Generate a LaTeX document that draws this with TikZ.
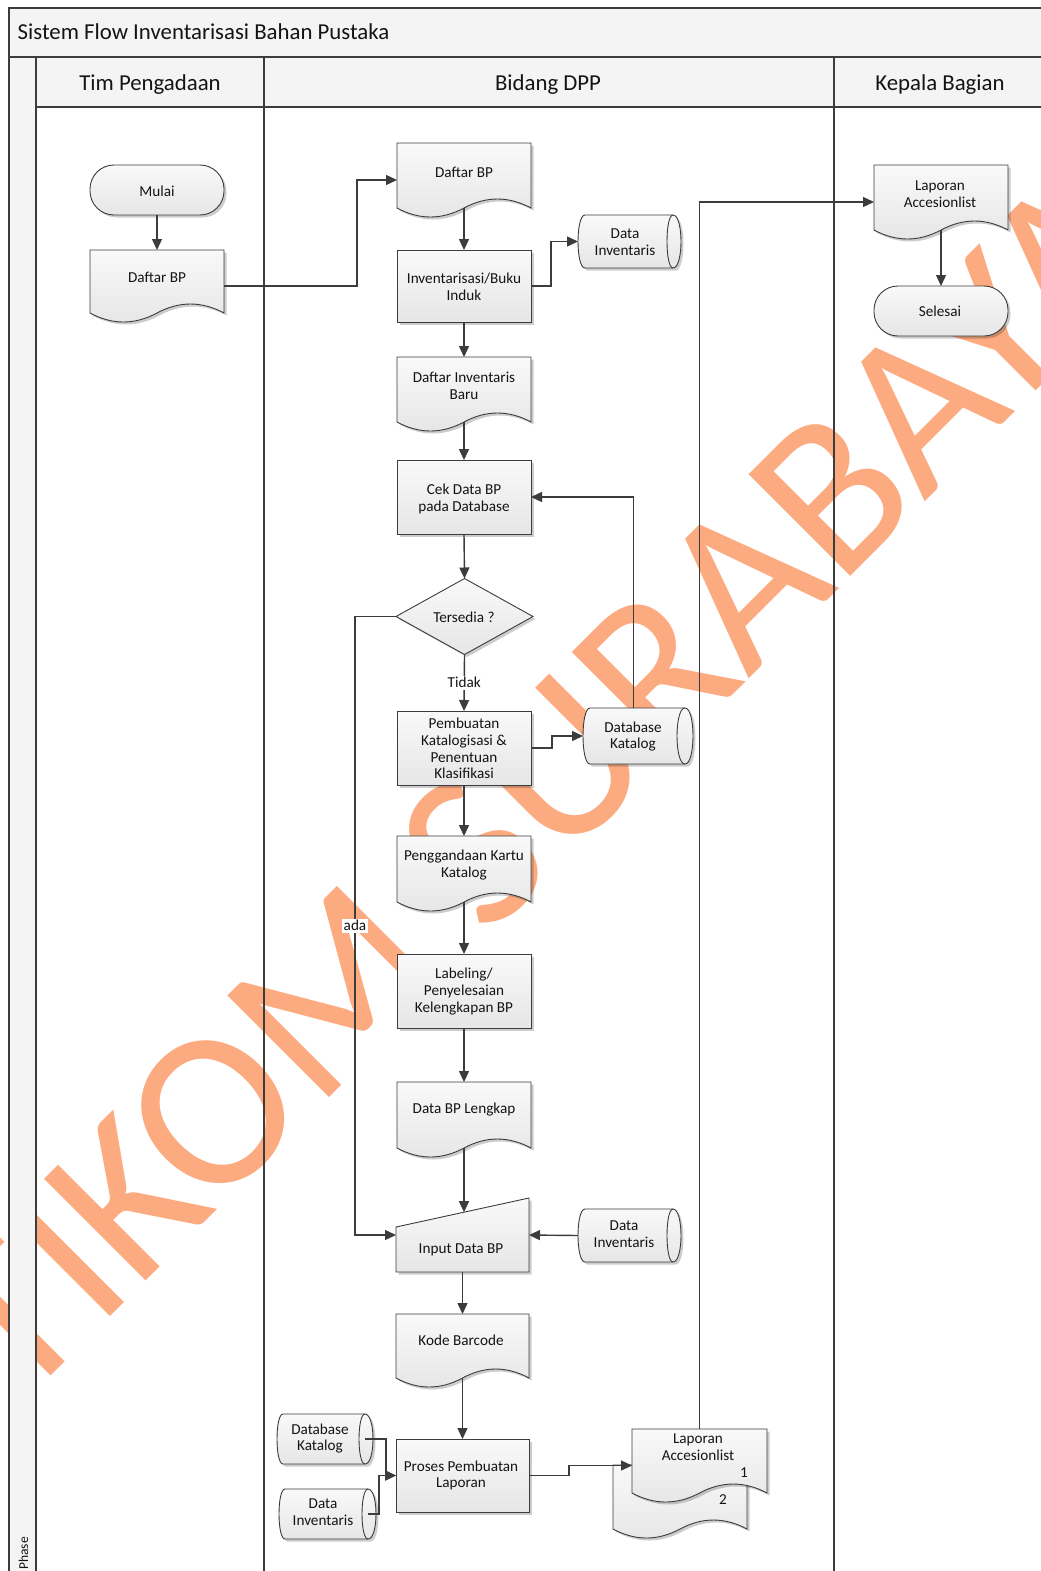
\documentclass[tikz,border=0pt]{standalone}
\usepackage{fontspec}
\setmainfont{Carlito}
\usetikzlibrary{arrows.meta,calc,shadows}

\definecolor{ln}{RGB}{60,60,60}
\definecolor{wmc}{RGB}{252,170,128}
\definecolor{fillA}{RGB}{249,249,249}
\definecolor{fillB}{RGB}{230,230,230}
\definecolor{bandc}{RGB}{244,244,244}
\definecolor{tx}{RGB}{20,20,20}

\tikzset{
 box/.style 2 args={inner sep=0pt, outer sep=0pt, minimum width=#1pt, minimum height=#2pt, draw=none, fill=none},
 shp/.style={draw=ln, line width=0.9pt, top color=fillA, bottom color=fillB, drop shadow={shadow xshift=2.5pt, shadow yshift=-2.5pt, opacity=0.2, fill=black}},
 shpl/.style={draw=ln, line width=0.9pt},
 conn/.style={draw=ln, line width=1.4pt, -{Triangle[length=11pt,width=10pt]}},
 lnk/.style={draw=ln, line width=1.4pt},
 lbl/.style={font=\fontsize{15.2}{16.8}\selectfont, align=center, text=tx, inner sep=0pt, yshift=-1.5pt},
 frm/.style={draw=ln, line width=1.3pt},
 hdr/.style={inner sep=0pt, text=tx, font=\fontsize{22.8}{26}\selectfont},
}

\newcommand\DocShape[1]{%
 \coordinate (#1-r) at ([yshift=9pt]#1.south east);
 \coordinate (#1-m) at ([yshift=9pt]#1.south);
 \coordinate (#1-l) at ([yshift=9pt]#1.south west);
 \path[shp] (#1.north west) -- (#1.north east) -- (#1-r)
   .. controls ($(#1-r)!0.333!(#1-m)+(0,-12)$) and ($(#1-r)!0.667!(#1-m)+(0,-12)$) .. (#1-m)
   .. controls ($(#1-m)!0.333!(#1-l)+(0,12)$) and ($(#1-m)!0.667!(#1-l)+(0,12)$) .. (#1-l) -- cycle;}
\newcommand\ProcShape[1]{\path[shp] (#1.north west) rectangle (#1.south east);}
\newcommand\TermShape[1]{\path[shp, rounded corners=24pt] (#1.north west) rectangle (#1.south east);}
\newcommand\DiaShape[1]{\path[shp] (#1.north) -- (#1.east) -- (#1.south) -- (#1.west) -- cycle;}
\newcommand\InShape[1]{\path[shp] ([yshift=-29pt]#1.north west) -- (#1.north east) -- (#1.south east) -- (#1.south west) -- cycle;}
\newcommand\StoreShape[4]{%
 \coordinate (#1-w) at ([xshift=-#2pt]#1.west);
 \path[shp] (#1.north west) -- (#1.north east)
   .. controls ([xshift=#3*1.333pt]#1.north east) and ([xshift=#3*1.333pt]#1.south east) .. (#1.south east)
   -- (#1.south west)
   .. controls ([xshift=-#2*1.333pt]#1.south west) and ([xshift=-#2*1.333pt]#1.north west) .. (#1.north west) -- cycle;
 \draw[shpl] (#1.north east) .. controls ([xshift=-#4*1.333pt]#1.north east) and ([xshift=-#4*1.333pt]#1.south east) .. (#1.south east);}

\begin{document}
\begin{tikzpicture}[x=1pt,y=-1pt]
\useasboundingbox (0,0) rectangle (1041,1571);
\path[fill=white] (0,0) rectangle (1041,1571);

% watermark
\node[rotate=45, anchor=base west, inner sep=0pt, text=wmc, font=\fontsize{224}{224}\selectfont] (wmark) at (-52,1479) {STIKOM SURABAYA};

% frame
\path[frm, fill=bandc] (9,8) rectangle (1060,57);
\path[frm, fill=bandc] (36,57) rectangle (1060,107);
\path[frm, fill=bandc] (9,57) rectangle (36,1590);
\draw[frm] (36,107) -- (36,1590);
\draw[frm] (264,57) -- (264,1590);
\draw[frm] (834,57) -- (834,1590);
\node[hdr, anchor=base west] (title) at (17.5,39.5) {Sistem Flow Inventarisasi Bahan Pustaka};
\node[hdr, anchor=base] (h1) at (150,90) {Tim Pengadaan};
\node[hdr, anchor=base] (h2) at (548,90) {Bidang DPP};
\node[hdr, anchor=base] (h3) at (940,90) {Kepala Bagian};
\node[rotate=90, anchor=east, inner sep=0pt, text=tx, font=\fontsize{13.5}{14}\selectfont] (phase) at (23.5,1537) {Phase};

% boxes
\node[box={134}{50}] (mulai) at (157,190) {};
\node[box={134}{72}] (dA) at (157,286) {};
\node[box={134}{74}] (dB) at (464,180) {};
\node[box={134}{72}] (inv) at (464,286) {};
\node[box={88}{53}] (di1) at (629,241.5) {};
\node[box={134}{74}] (dIB) at (464,394) {};
\node[box={134}{74}] (cek) at (464,497) {};
\node[box={137}{76}] (dia) at (464.5,616.5) {};
\node[box={134}{74}] (pemb) at (464,748) {};
\node[box={95}{56}] (dbk) at (637.5,736) {};
\node[box={134}{75}] (peng) at (464,873.5) {};
\node[box={134}{74}] (lab) at (464,991) {};
\node[box={134}{75}] (dbl) at (464,1119.5) {};
\node[box={133}{74}] (inp) at (462.5,1235) {};
\node[box={88}{53}] (di2) at (629,1235.5) {};
\node[box={133}{73}] (kode) at (462.5,1350.5) {};
\node[box={133}{73}] (proses) at (462.5,1475.5) {};
\node[box={82}{50}] (dbk2) at (324,1439) {};
\node[box={83}{50}] (di3) at (326.5,1514) {};
\node[box={134}{73}] (mb) at (680,1501.5) {};
\node[box={135}{73}] (mf) at (699.5,1465.5) {};
\node[box={134}{74}] (lapK) at (941,202) {};
\node[box={134}{50}] (selesai) at (941,311) {};

% shapes
\TermShape{mulai}
\DocShape{dA}
\DocShape{dB}
\ProcShape{inv}
\StoreShape{di1}{7}{8}{6}
\DocShape{dIB}
\ProcShape{cek}
\DiaShape{dia}
\ProcShape{pemb}
\StoreShape{dbk}{7}{8}{8}
\DocShape{peng}
\ProcShape{lab}
\DocShape{dbl}
\InShape{inp}
\StoreShape{di2}{7}{8}{6}
\DocShape{kode}
\ProcShape{proses}
\StoreShape{dbk2}{6}{8}{6}
\StoreShape{di3}{6}{8}{6}
\DocShape{mb}
\DocShape{mf}
\DocShape{lapK}
\TermShape{selesai}

% texts
\node[lbl] (mulai-t) at (157,190) {Mulai};
\node[lbl] (dA-t) at (157,276) {Daftar BP};
\node[lbl] (dB-t) at (464,171) {Daftar BP};
\node[lbl] (inv-t) at (464,285.5) {Inventarisasi/Buku\\Induk};
\node[lbl] (di1-t) at (625,241) {Data\\Inventaris};
\node[lbl] (dIB-t) at (464,384.5) {Daftar Inventaris\\Baru};
\node[lbl] (cek-t) at (464,497.5) {Cek Data BP\\pada Database};
\node[lbl] (dia-t) at (464,616) {Tersedia ?};
\node[lbl] (pemb-t) at (464,747) {Pembuatan\\Katalogisasi \&\\Penentuan\\Klasifikasi};
\node[lbl] (dbk-t) at (633,735) {Database\\Katalog};
\node[lbl] (peng-t) at (464,863.5) {Penggandaan Kartu\\Katalog};
\node[lbl] (lab-t) at (464,990) {Labeling/\\Penyelesaian\\Kelengkapan BP};
\node[lbl] (dbl-t) at (464,1108) {Data BP Lengkap};
\node[lbl] (inp-t) at (461,1248) {Input Data BP};
\node[lbl] (di2-t) at (624,1233) {Data\\Inventaris};
\node[lbl] (kode-t) at (461,1339) {Kode Barcode};
\node[lbl] (proses-t) at (461,1474) {Proses Pembuatan\\Laporan};
\node[lbl] (dbk2-t) at (320,1437) {Database\\Katalog};
\node[lbl] (di3-t) at (323,1511) {Data\\Inventaris};
\node[lbl] (mf-t) at (698,1446) {Laporan\\Accesionlist};
\node[lbl] (mf-1) at (744,1471) {1};
\node[lbl] (mb-2) at (723,1498) {2};
\node[lbl] (lapK-t) at (940,193) {Laporan\\Accesionlist};
\node[lbl] (selesai-t) at (940,310) {Selesai};

% bend coordinates
\coordinate (b1) at (357,0);
\coordinate (b2) at (551,0);
\coordinate (b3) at (552,0);
\coordinate (b4) at (355,0);
\coordinate (b5) at (386,0);
\coordinate (b6) at (379,0);
\coordinate (b7) at (569,0);
\coordinate (inptop) at ($([yshift=-29pt]inp.north west)!0.511!(inp.north east)$);

% connectors
\draw[conn] (mulai.south) -- (dA.north);
\draw[conn] (dA.east) -- (dA.east -| b1) |- (dB.west);
\draw[conn] (dB-m) -- (inv.north);
\draw[conn] (inv.east) -- (inv.east -| b2) |- (di1-w);
\draw[conn] (inv.south) -- (dIB.north);
\draw[conn] (dIB-m) -- (cek.north);
\draw[conn] (cek.south) -- (dia.north);
\draw[conn] (dia.south) -- node[lbl, fill=white, inner sep=1.5pt, yshift=1.5pt] (tidak) {Tidak} (pemb.north);
\draw[conn] (pemb.east) -- (pemb.east -| b3) |- (dbk-w);
\draw[conn] ([xshift=-4pt]dbk.north) |- (cek.east);
\draw[conn] (dia.west) -- (dia.west -| b4) -- node[lbl, fill=white, inner sep=1.5pt, yshift=1.5pt] (ada) {ada} (b4 |- inp.west) -- (inp.west);
\draw[conn] (pemb.south) -- (peng.north);
\draw[conn] (peng-m) -- (lab.north);
\draw[conn] (lab.south) -- (dbl.north);
\draw[conn] (dbl-m) -- (dbl-m |- inptop);
\draw[conn] (di2-w) -- (inp.east);
\draw[conn] (inp.south) -- (kode.north);
\draw[conn] (kode-m) -- (proses.north);
\draw[conn] (dbk2.east) -- (dbk2.east -| b5) |- (proses.west);
\draw[conn] (di3.east) -- (di3.east -| b6) |- (proses.west);
\draw[conn] (proses.east) -- (proses.east -| b7) |- (mf.west);
\draw[conn] (mf.north) |- (lapK.west);
\draw[conn] (lapK-m) -- (selesai.north);
\end{tikzpicture}
\end{document}
